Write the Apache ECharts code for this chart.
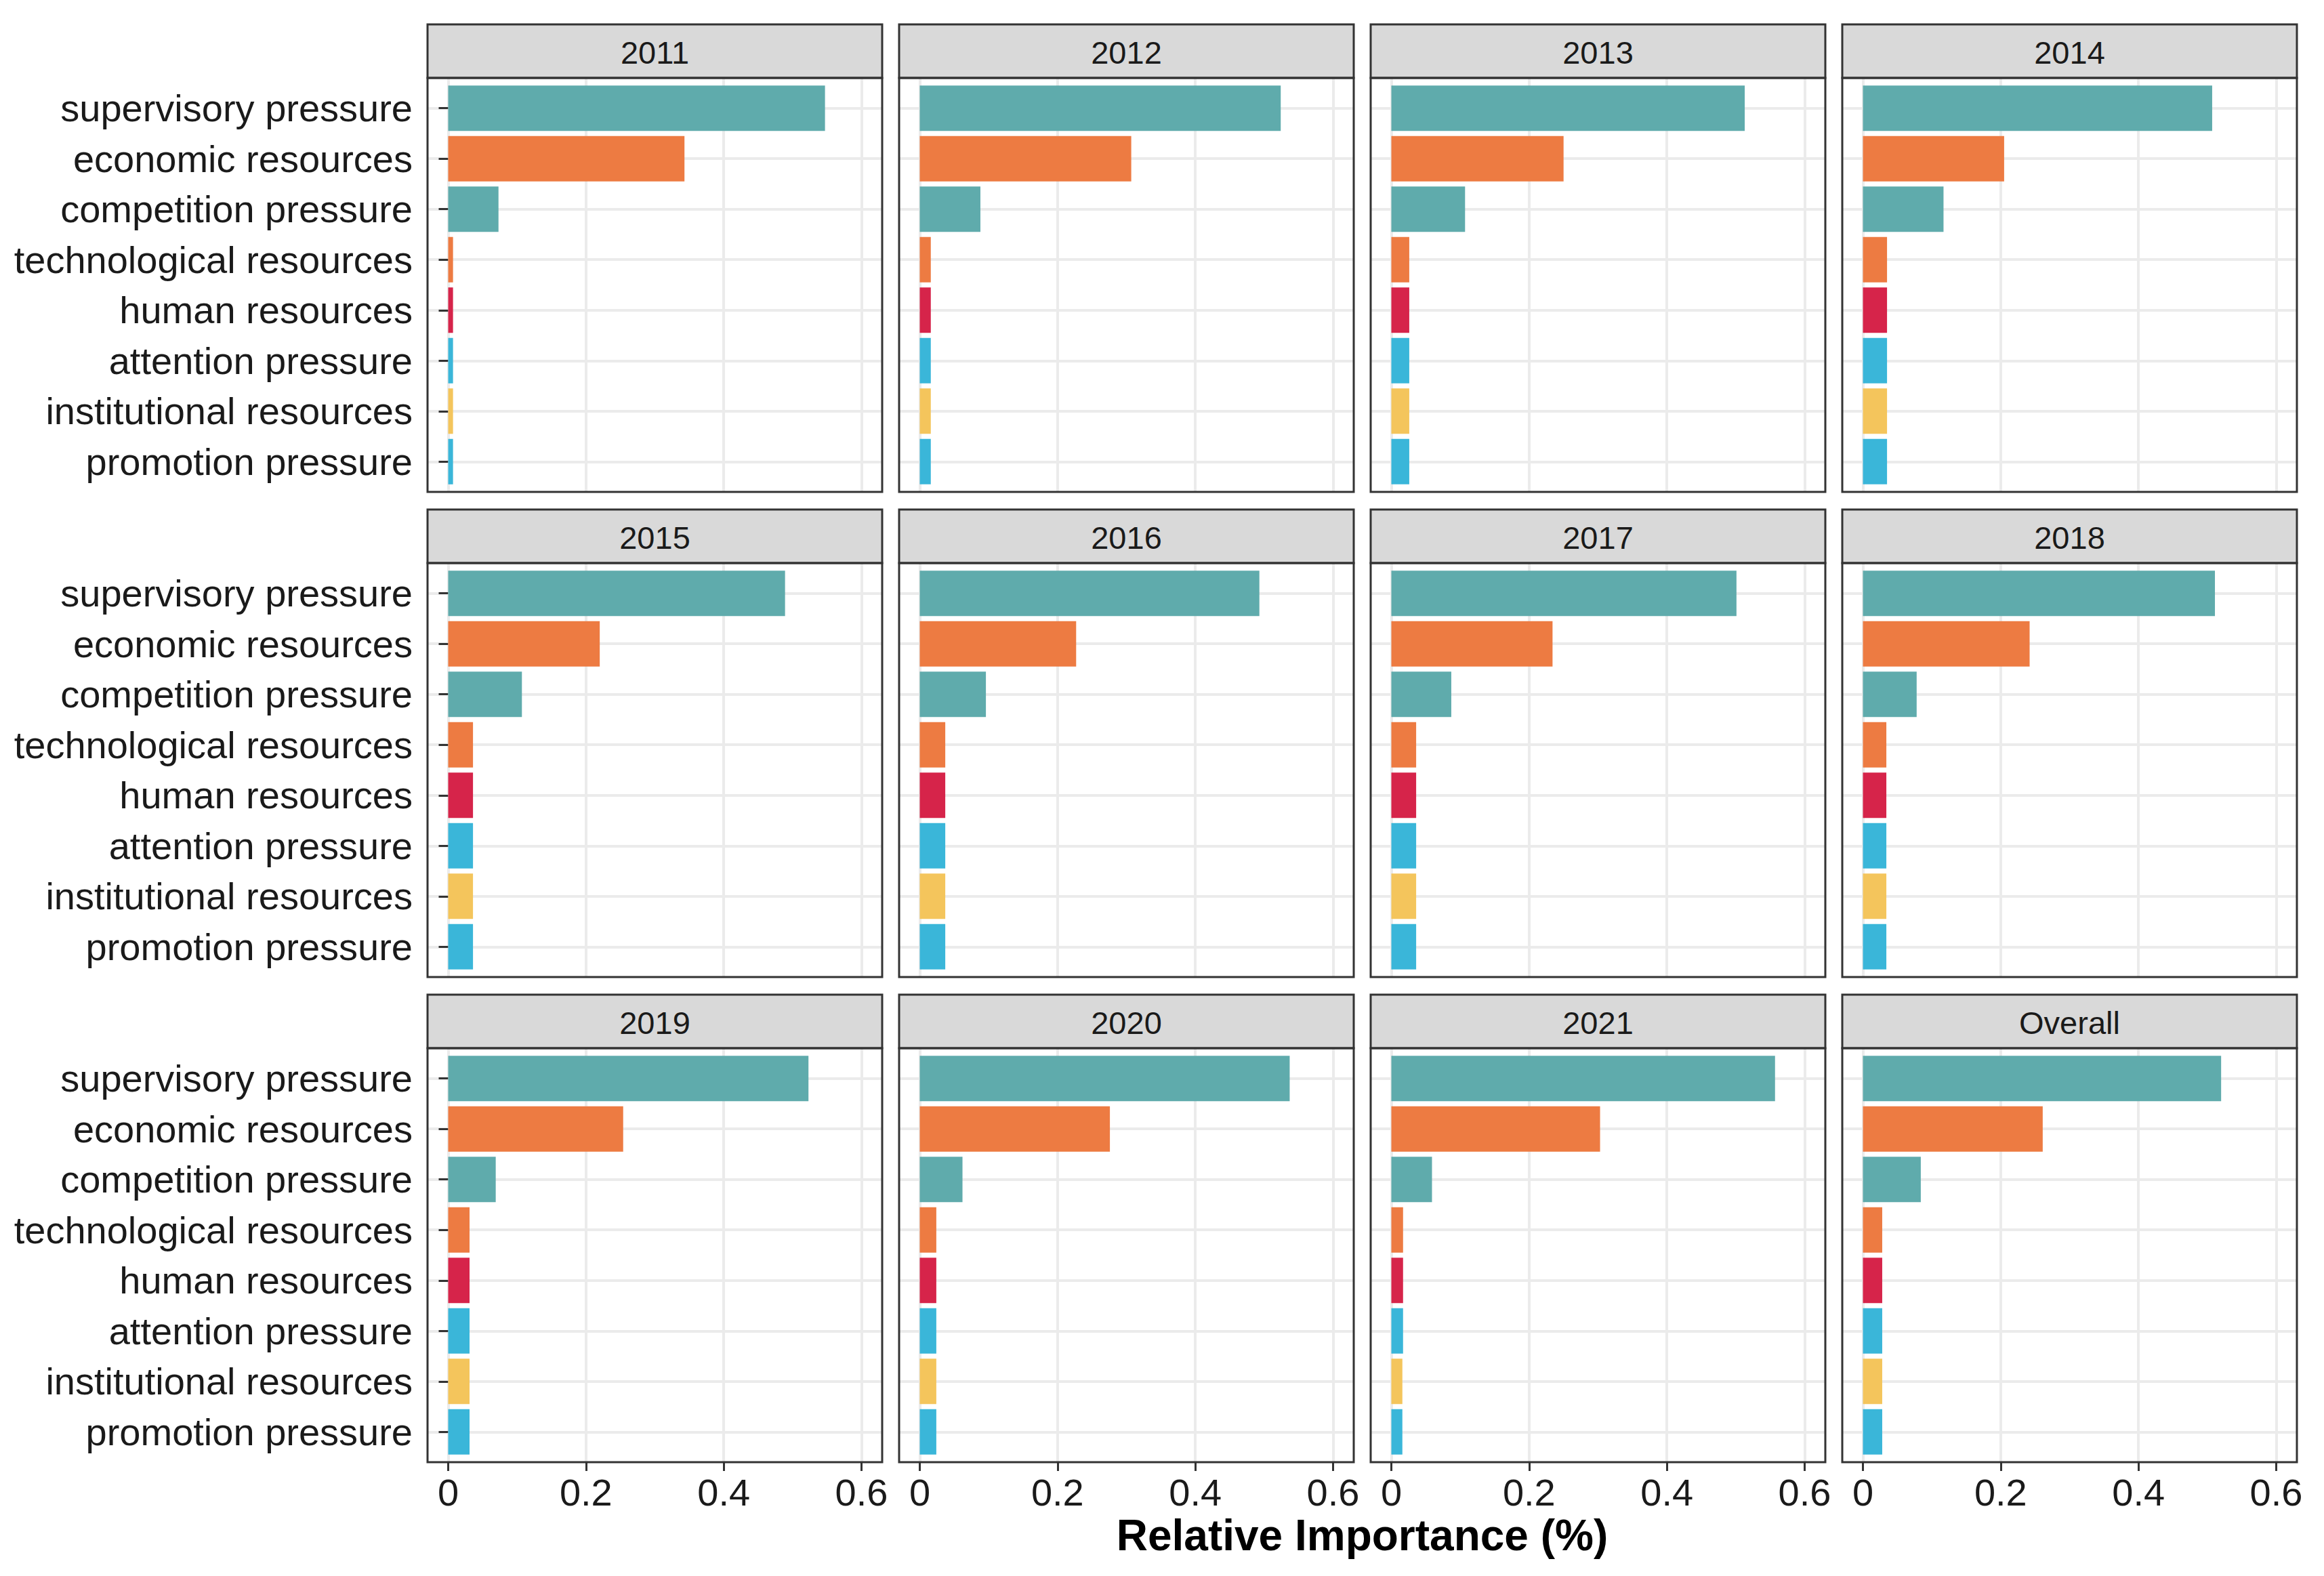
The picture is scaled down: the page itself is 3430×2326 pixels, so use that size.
<!DOCTYPE html>
<html>
<head>
<meta charset="utf-8">
<script src="https://cdn.jsdelivr.net/npm/echarts@6/dist/echarts.min.js"></script>
<style>
html,body{margin:0;padding:0;background:#ffffff;}
#chart{width:3430px;height:2326px;}
</style>
</head>
<body>
<div id="chart"></div>
<script>
// ---------- DATA ----------
const panels = ['2011','2012','2013','2014','2015','2016','2017','2018','2019','2020','2021','Overall'];
const factors = ['supervisory pressure','economic resources','competition pressure','technological resources','human resources','attention pressure','institutional resources','promotion pressure'];
const supervisory   = [0.547,0.524,0.513,0.507,0.489,0.493,0.501,0.511,0.523,0.537,0.557,0.520];
const economic      = [0.343,0.307,0.250,0.205,0.220,0.227,0.234,0.242,0.254,0.276,0.303,0.261];
const competition   = [0.073,0.088,0.107,0.117,0.107,0.096,0.087,0.078,0.069,0.062,0.059,0.084];
const technological = [0.007,0.016,0.026,0.035,0.036,0.037,0.036,0.034,0.031,0.024,0.017,0.028];
const human         = [0.007,0.016,0.026,0.035,0.036,0.037,0.036,0.034,0.031,0.024,0.017,0.028];
const attention     = [0.007,0.016,0.026,0.035,0.036,0.037,0.036,0.034,0.031,0.024,0.017,0.028];
const institutional = [0.007,0.016,0.026,0.035,0.036,0.037,0.036,0.034,0.031,0.024,0.016,0.028];
const promotion     = [0.007,0.016,0.026,0.035,0.036,0.037,0.036,0.034,0.031,0.024,0.016,0.028];
const factorValues = [supervisory, economic, competition, technological, human, attention, institutional, promotion];
const barColors = ['#5fabac','#ed7b42','#5fabac','#ed7b42','#d6244a','#3ab6d9','#f4c55c','#3ab6d9'];
const xTickLabels = ['0','0.2','0.4','0.6'];
const xAxisTitle = 'Relative Importance (%)';

// ---------- LAYOUT ----------
const FONT = '"Liberation Sans", Arial, Helvetica, sans-serif';
const L0 = 631, DX = 696, PW = 671;
const T0 = 36, DY = 716, SH = 79, PH = 611;
const XMIN = -0.03, XMAX = 0.63;
const unit = PH / 8.2;
const inset = 0.6 * unit;
const zeroOff = PW * (0 - XMIN) / (XMAX - XMIN);
const sixWidth = PW * 0.6 / (XMAX - XMIN);

const grid = [], xAxis = [], yAxis = [], series = [], graphic = [];

panels.forEach((name, k) => {
  const r = Math.floor(k / 4), c = k % 4;
  const L = L0 + c * DX;
  const st = T0 + r * DY;
  const pt = st + SH;

  // frame grid: vertical grid lines and x tick labels
  grid.push({left: L + zeroOff, top: pt, width: sixWidth, height: PH, containLabel: false});
  xAxis.push({
    gridIndex: 2 * k, type: 'value', min: 0, max: 0.6, interval: 0.2,
    axisLine: {show: false},
    axisTick: {show: r === 2, length: 13, lineStyle: {color: '#333333', width: 3}},
    axisLabel: {show: r === 2, margin: 16, fontSize: 56, fontFamily: FONT, color: '#1a1a1a',
      formatter: v => xTickLabels[Math.round(v / 0.2)]},
    splitLine: {show: true, showMinLine: true, showMaxLine: true, lineStyle: {color: '#ebebeb', width: 4}}
  });
  yAxis.push({gridIndex: 2 * k, type: 'value', show: false});

  // data grid: bars, category axis, horizontal grid lines
  grid.push({left: L, top: pt + inset, width: PW, height: PH - 2 * inset, containLabel: false});
  xAxis.push({gridIndex: 2 * k + 1, type: 'value', min: XMIN, max: XMAX, show: false, splitLine: {show: false}});
  yAxis.push({
    gridIndex: 2 * k + 1, type: 'category', data: factors, inverse: true, boundaryGap: false,
    axisLine: {show: false},
    axisTick: {show: c === 0, length: 14, interval: 0, lineStyle: {color: '#333333', width: 3}},
    axisLabel: {show: c === 0, interval: 0, margin: 22, fontSize: 56, fontFamily: FONT, color: '#1a1a1a'},
    splitLine: {show: true, interval: 0, lineStyle: {color: '#ebebeb', width: 4}}
  });

  series.push({
    type: 'bar', name: name, xAxisIndex: 2 * k + 1, yAxisIndex: 2 * k + 1,
    barWidth: 0.9 * unit, clip: false, silent: true,
    data: factors.map((f, i) => ({value: factorValues[i][k], itemStyle: {color: barColors[i]}}))
  });

  // strip
  graphic.push({type: 'rect', z: 100, shape: {x: L, y: st, width: PW, height: SH},
    style: {fill: '#d9d9d9', stroke: '#333333', lineWidth: 3}});
  graphic.push({type: 'text', z: 101, x: L + PW / 2, y: st + SH / 2 + 2,
    style: {text: name, font: '47px ' + FONT, fill: '#1a1a1a', textAlign: 'center', textVerticalAlign: 'middle'}});
  // panel border
  graphic.push({type: 'rect', z: 100, shape: {x: L, y: pt, width: PW, height: PH},
    style: {fill: 'none', stroke: '#333333', lineWidth: 3}});
});

graphic.push({type: 'text', z: 101, x: L0 + (3 * DX + PW) / 2, y: 2266,
  style: {text: xAxisTitle, font: 'bold 64px ' + FONT, fill: '#000000', textAlign: 'center', textVerticalAlign: 'middle'}});

const chart = echarts.init(document.getElementById('chart'), null, {renderer: 'svg', width: 3430, height: 2326});
chart.setOption({
  animation: false,
  backgroundColor: '#ffffff',
  grid, xAxis, yAxis, series, graphic
});
</script>
</body>
</html>
